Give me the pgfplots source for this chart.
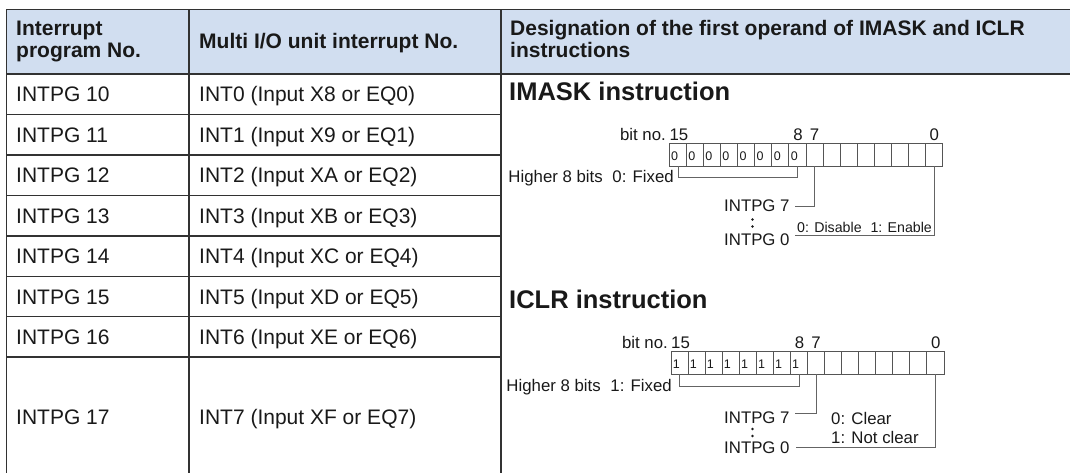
\documentclass[border=0pt]{standalone}
\usepackage{fontspec}
\setmainfont{Liberation Sans}
\usepackage{pgfplots}
\pgfplotsset{compat=1.18}
\definecolor{hdr}{RGB}{209,222,240}
\definecolor{gridc}{RGB}{50,50,50}
\definecolor{boxc}{RGB}{85,85,85}
\definecolor{lnc}{RGB}{100,100,100}
\definecolor{txt}{RGB}{25,25,25}
\newcommand{\fb}{\fontsize{21bp}{24bp}\selectfont}
\newcommand{\ft}{\fontsize{25.5bp}{28bp}\selectfont\bfseries}
\newcommand{\fd}{\fontsize{16.8bp}{18bp}\selectfont}
\newcommand{\fs}{\fontsize{14.2bp}{16bp}\selectfont}
\newcommand{\fx}{\fontsize{12.5bp}{13bp}\selectfont}
\begin{document}
\begin{tikzpicture}
\useasboundingbox (0,0) rectangle (1070bp,473bp);
\begin{axis}[at={(0,0)},anchor=south west,width=1070bp,height=473bp,scale only axis,
  xmin=0,xmax=1070,ymin=0,ymax=473,y dir=reverse,hide axis,clip=false,enlargelimits=false]
% header band
\fill[hdr] (6.7,9.3) rectangle (1080,74);
% table rules
\draw[gridc,line width=1.4bp] (1080,9.3) -- (6.7,9.3) -- (6.7,490);
\draw[gridc,line width=1.4bp] (6.7,74) -- (1080,74);
\draw[gridc,line width=1.2bp] (189,9.3) -- (189,490);
\draw[gridc,line width=1.2bp] (501,9.3) -- (501,490);
\draw[gridc,line width=1.2bp] (6.7,114.5) -- (501,114.5);
\draw[gridc,line width=1.2bp] (6.7,155) -- (501,155);
\draw[gridc,line width=1.2bp] (6.7,195.5) -- (501,195.5);
\draw[gridc,line width=1.2bp] (6.7,236) -- (501,236);
\draw[gridc,line width=1.2bp] (6.7,276.5) -- (501,276.5);
\draw[gridc,line width=1.2bp] (6.7,316.5) -- (501,316.5);
\draw[gridc,line width=1.2bp] (6.7,357) -- (501,357);
% header text
\node[anchor=base west,inner sep=0,txt] at (16,35.5) {\fb\bfseries Interrupt};
\node[anchor=base west,inner sep=0,txt] at (16,58) {\fb\bfseries program No.};
\node[anchor=base west,inner sep=0,txt] at (199,48.5) {\fb\bfseries Multi I/O unit interrupt No.};
\node[anchor=base west,inner sep=0,txt] at (510,35.5) {\fb\bfseries Designation of the first operand of IMASK and ICLR};
\node[anchor=base west,inner sep=0,txt] at (510,58) {\fb\bfseries instructions};
% body text
\node[anchor=base west,inner sep=0,txt] at (16,101.8) {\fb INTPG 10};
\node[anchor=base west,inner sep=0,txt] at (16,142.3) {\fb INTPG 11};
\node[anchor=base west,inner sep=0,txt] at (16,182.8) {\fb INTPG 12};
\node[anchor=base west,inner sep=0,txt] at (16,223.3) {\fb INTPG 13};
\node[anchor=base west,inner sep=0,txt] at (16,263.8) {\fb INTPG 14};
\node[anchor=base west,inner sep=0,txt] at (16,304) {\fb INTPG 15};
\node[anchor=base west,inner sep=0,txt] at (16,344.3) {\fb INTPG 16};
\node[anchor=base west,inner sep=0,txt] at (16,424.5) {\fb INTPG 17};
\node[anchor=base west,inner sep=0,txt] at (199,101.8) {\fb INT0 (Input X8 or EQ0)};
\node[anchor=base west,inner sep=0,txt] at (199,142.3) {\fb INT1 (Input X9 or EQ1)};
\node[anchor=base west,inner sep=0,txt] at (199,182.8) {\fb INT2 (Input XA or EQ2)};
\node[anchor=base west,inner sep=0,txt] at (199,223.3) {\fb INT3 (Input XB or EQ3)};
\node[anchor=base west,inner sep=0,txt] at (199,263.8) {\fb INT4 (Input XC or EQ4)};
\node[anchor=base west,inner sep=0,txt] at (199,304) {\fb INT5 (Input XD or EQ5)};
\node[anchor=base west,inner sep=0,txt] at (199,344.3) {\fb INT6 (Input XE or EQ6)};
\node[anchor=base west,inner sep=0,txt] at (199,424.5) {\fb INT7 (Input XF or EQ7)};
% titles
\node[anchor=base west,inner sep=0,txt] at (509,100) {\ft IMASK instruction};
\node[anchor=base west,inner sep=0,txt] at (509,308) {\ft ICLR instruction};
% ---------- IMASK diagram ----------
\node[anchor=base east,inner sep=0,txt] at (666,140.5) {\fd bit no.};
\node[anchor=base west,inner sep=0,txt] at (669.3,140.5) {\fd 15};
\node[anchor=base,inner sep=0,txt] at (798,140.5) {\fd 8};
\node[anchor=base,inner sep=0,txt] at (814.6,140.5) {\fd 7};
\node[anchor=base,inner sep=0,txt] at (934.2,140.5) {\fd 0};
\draw[boxc,line width=0.9bp] (669.3,143.3) rectangle (942.7,166);
\pgfplotsinvokeforeach{1,...,15}{
  \draw[boxc,line width=0.9bp] ({669.3+#1*17.09},143.3) -- ({669.3+#1*17.09},166);
}
\pgfplotsinvokeforeach{0,...,7}{
  \node[anchor=base west,inner sep=0,txt] at ({671+#1*17.09},160.5) {\fx 0};
}
\draw[lnc,line width=0.9bp] (678,166) -- (678,177) -- (797.5,177) -- (797.5,166);
\node[anchor=base east,inner sep=0,txt] at (674,182.5) {\fd Higher 8 bits\hspace{0.3em} 0: Fixed};
\draw[lnc,line width=0.9bp] (814.6,166) -- (814.6,206) -- (795,206);
\node[anchor=base west,inner sep=0,txt] at (724,211.5) {\fd INTPG 7};
\fill[txt] (752.5,219.5) circle[radius=1.3bp];
\fill[txt] (752.5,226.5) circle[radius=1.3bp];
\node[anchor=base west,inner sep=0,txt] at (724,245.5) {\fd INTPG 0};
\draw[lnc,line width=0.9bp] (795,235.5) -- (934.2,235.5) -- (934.2,166);
\node[anchor=base west,inner sep=0,txt] at (797,232) {\fs 0: Disable\hspace{0.35em} 1: Enable};
% ---------- ICLR diagram ----------
\node[anchor=base east,inner sep=0,txt] at (668,348.5) {\fd bit no.};
\node[anchor=base west,inner sep=0,txt] at (671,348.5) {\fd 15};
\node[anchor=base,inner sep=0,txt] at (799.5,348.5) {\fd 8};
\node[anchor=base,inner sep=0,txt] at (816,348.5) {\fd 7};
\node[anchor=base,inner sep=0,txt] at (935.9,348.5) {\fd 0};
\draw[boxc,line width=0.9bp] (671,351.7) rectangle (944,374);
\pgfplotsinvokeforeach{1,...,15}{
  \draw[boxc,line width=0.9bp] ({671+#1*17.06},351.7) -- ({671+#1*17.06},374);
}
\pgfplotsinvokeforeach{0,...,7}{
  \node[anchor=base west,inner sep=0,txt] at ({672.6+#1*17.06},368.5) {\fx 1};
}
\draw[lnc,line width=0.9bp] (679.5,374) -- (679.5,386) -- (799,386) -- (799,374);
\node[anchor=base east,inner sep=0,txt] at (672,391) {\fd Higher 8 bits\hspace{0.3em} 1: Fixed};
\draw[lnc,line width=0.9bp] (816,374) -- (816,413) -- (795,413);
\node[anchor=base west,inner sep=0,txt] at (724,423) {\fd INTPG 7};
\fill[txt] (752.5,429) circle[radius=1.3bp];
\fill[txt] (752.5,436) circle[radius=1.3bp];
\node[anchor=base west,inner sep=0,txt] at (724,453.5) {\fd INTPG 0};
\draw[lnc,line width=0.9bp] (796,447.5) -- (935.9,447.5) -- (935.9,374);
\node[anchor=base west,inner sep=0,txt] at (831,424.5) {\fd 0: Clear};
\node[anchor=base west,inner sep=0,txt] at (831,443.5) {\fd 1: Not clear};
\end{axis}
\end{tikzpicture}
\end{document}
